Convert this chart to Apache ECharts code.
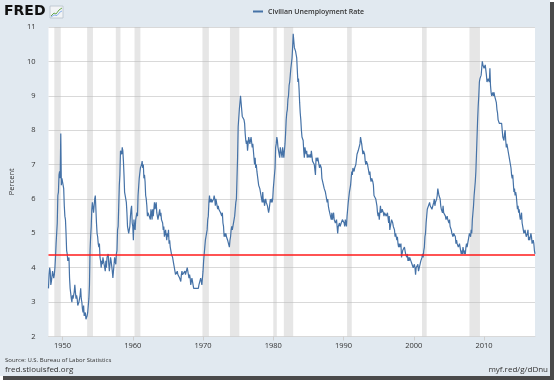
<!DOCTYPE html>
<html>
<head>
<meta charset="utf-8">
<script src="https://cdn.jsdelivr.net/npm/echarts@6/dist/echarts.min.js"></script>
<style>
html,body{margin:0;padding:0;background:#ffffff;}
#chart{width:554px;height:380px;}
</style>
</head>
<body>
<div id="chart"></div>
<script>
// Civilian Unemployment Rate, monthly, percent (start Jan 1948)
const startYear = 1948;
const u1940s = [
3.4,3.8,4.0,3.9,3.5,3.6,3.6,3.9,3.8,3.7,3.8,4.0,
4.3,4.7,5.0,5.3,6.1,6.2,6.7,6.8,6.6,7.9,6.4,6.6];
const u1950s = [
6.5,6.4,6.3,5.8,5.5,5.4,5.0,4.5,4.4,4.2,4.2,4.3,
3.7,3.4,3.4,3.1,3.0,3.2,3.1,3.1,3.3,3.5,3.5,3.1,
3.2,3.1,2.9,2.9,3.0,3.0,3.2,3.4,3.1,3.0,2.8,2.7,
2.9,2.6,2.6,2.7,2.5,2.5,2.6,2.7,2.9,3.1,3.5,4.5,
4.9,5.2,5.7,5.9,5.9,5.6,5.8,6.0,6.1,5.7,5.3,5.0,
4.9,4.7,4.6,4.7,4.3,4.2,4.0,4.2,4.1,4.3,4.2,4.2,
4.0,3.9,4.2,4.0,4.3,4.3,4.4,4.1,3.9,3.9,4.3,4.2,
4.2,3.9,3.7,3.9,4.1,4.3,4.2,4.1,4.4,4.5,5.1,5.2,
5.8,6.4,6.7,7.4,7.4,7.3,7.5,7.4,7.1,6.7,6.2,6.2,
6.0,5.9,5.6,5.2,5.1,5.0,5.1,5.2,5.5,5.7,5.8,5.3];
const u1960s = [
5.2,4.8,5.4,5.2,5.1,5.4,5.5,5.6,5.5,6.1,6.1,6.6,
6.6,6.9,6.9,7.0,7.1,6.9,7.0,6.6,6.7,6.5,6.1,6.0,
5.8,5.5,5.6,5.6,5.5,5.5,5.4,5.7,5.6,5.4,5.7,5.5,
5.7,5.9,5.7,5.7,5.9,5.6,5.6,5.4,5.5,5.5,5.7,5.5,
5.6,5.4,5.4,5.3,5.1,5.2,4.9,5.0,5.1,5.1,4.8,5.0,
4.9,5.1,4.7,4.8,4.6,4.6,4.4,4.4,4.3,4.2,4.1,4.0,
4.0,3.8,3.8,3.8,3.9,3.8,3.8,3.8,3.7,3.7,3.6,3.8,
3.9,3.8,3.8,3.8,3.8,3.9,3.8,3.8,3.8,4.0,3.9,3.8,
3.7,3.8,3.7,3.5,3.5,3.7,3.7,3.5,3.4,3.4,3.4,3.4,
3.4,3.4,3.4,3.4,3.4,3.5,3.5,3.5,3.7,3.7,3.5,3.5];
const u1970s = [
3.9,4.2,4.4,4.6,4.8,4.9,5.0,5.1,5.4,5.5,5.9,6.1,
5.9,5.9,6.0,5.9,5.9,5.9,6.0,6.1,6.0,5.8,6.0,6.0,
5.8,5.7,5.8,5.7,5.7,5.7,5.6,5.6,5.5,5.6,5.3,5.2,
4.9,5.0,4.9,5.0,4.9,4.9,4.8,4.8,4.8,4.6,4.8,4.9,
5.1,5.2,5.1,5.1,5.1,5.4,5.5,5.5,5.9,6.0,6.6,7.2,
8.1,8.1,8.6,8.8,9.0,8.8,8.6,8.4,8.4,8.4,8.3,8.2,
7.9,7.7,7.6,7.7,7.4,7.6,7.8,7.8,7.6,7.7,7.8,7.8,
7.5,7.6,7.4,7.2,7.0,7.2,6.9,7.0,6.8,6.8,6.8,6.4,
6.4,6.3,6.3,6.1,6.0,5.9,6.2,5.9,6.0,5.8,5.9,6.0,
5.9,5.9,5.8,5.8,5.6,5.7,5.7,6.0,5.9,6.0,5.9,6.0];
const u1980s = [
6.3,6.3,6.3,6.9,7.5,7.6,7.8,7.7,7.5,7.5,7.5,7.2,
7.5,7.4,7.4,7.2,7.5,7.5,7.2,7.4,7.6,7.9,8.3,8.5,
8.6,8.9,9.0,9.3,9.4,9.6,9.8,9.8,10.1,10.4,10.8,10.8,
10.4,10.4,10.3,10.2,10.1,10.1,9.4,9.5,9.2,8.8,8.5,8.3,
8.0,7.8,7.8,7.7,7.4,7.2,7.5,7.5,7.3,7.4,7.2,7.3,
7.3,7.2,7.2,7.3,7.2,7.4,7.4,7.1,7.1,7.1,7.0,7.0,
6.7,7.2,7.2,7.1,7.2,7.2,7.0,6.9,7.0,7.0,6.9,6.6,
6.6,6.6,6.6,6.3,6.3,6.2,6.1,6.0,5.9,6.0,5.8,5.7,
5.7,5.7,5.7,5.4,5.6,5.4,5.4,5.6,5.4,5.4,5.3,5.3,
5.4,5.2,5.0,5.2,5.2,5.3,5.2,5.2,5.3,5.3,5.4,5.4];
const u1990s = [
5.4,5.3,5.2,5.4,5.4,5.2,5.5,5.7,5.9,5.9,6.2,6.3,
6.4,6.6,6.8,6.7,6.9,6.9,6.8,6.9,6.9,7.0,7.0,7.3,
7.3,7.4,7.4,7.4,7.6,7.8,7.7,7.6,7.6,7.3,7.4,7.4,
7.3,7.1,7.0,7.1,7.1,7.0,6.9,6.8,6.7,6.8,6.6,6.5,
6.6,6.6,6.5,6.4,6.1,6.1,6.1,6.0,5.9,5.8,5.6,5.5,
5.6,5.4,5.4,5.8,5.6,5.6,5.7,5.7,5.6,5.5,5.6,5.6,
5.6,5.5,5.5,5.6,5.6,5.3,5.5,5.1,5.2,5.2,5.4,5.4,
5.3,5.2,5.2,5.1,4.9,5.0,4.9,4.8,4.9,4.7,4.6,4.7,
4.6,4.6,4.7,4.3,4.4,4.5,4.5,4.5,4.6,4.5,4.4,4.4,
4.3,4.4,4.2,4.3,4.2,4.3,4.3,4.2,4.2,4.1,4.1,4.0];
const u2000s = [
4.0,4.1,4.0,3.8,4.0,4.0,4.0,4.1,3.9,3.9,3.9,3.9,
4.2,4.2,4.3,4.4,4.3,4.5,4.6,4.9,5.0,5.3,5.5,5.7,
5.7,5.7,5.7,5.9,5.8,5.8,5.8,5.7,5.7,5.7,5.9,6.0,
5.8,5.9,5.9,6.0,6.1,6.3,6.2,6.1,6.1,6.0,5.8,5.7,
5.7,5.6,5.8,5.6,5.6,5.6,5.5,5.4,5.4,5.5,5.4,5.4,
5.3,5.4,5.2,5.2,5.1,5.0,5.0,4.9,5.0,5.0,5.0,4.9,
4.7,4.8,4.7,4.7,4.6,4.6,4.7,4.7,4.5,4.4,4.5,4.4,
4.6,4.5,4.4,4.5,4.4,4.6,4.7,4.6,4.7,4.7,4.7,5.0,
5.0,4.9,5.1,5.0,5.4,5.6,5.8,6.1,6.1,6.5,6.8,7.3,
7.8,8.3,8.7,9.0,9.4,9.5,9.5,9.6,9.8,10.0,9.9,9.9];
const u2010s = [
9.8,9.8,9.9,9.9,9.6,9.4,9.4,9.5,9.5,9.4,9.8,9.3,
9.1,9.0,9.0,9.1,9.0,9.1,9.0,9.0,9.0,8.8,8.6,8.5,
8.3,8.3,8.2,8.2,8.2,8.2,8.2,8.0,7.8,7.8,7.7,7.9,
8.0,7.7,7.5,7.6,7.5,7.5,7.3,7.2,7.2,7.2,6.9,6.7,
6.6,6.7,6.7,6.2,6.3,6.1,6.2,6.1,5.9,5.7,5.8,5.6,
5.7,5.5,5.4,5.4,5.6,5.3,5.2,5.1,5.0,5.0,5.1,5.0,
4.9,4.9,5.0,5.1,4.8,4.9,4.8,4.9,5.0,4.9,4.7,4.7,
4.8,4.7,4.5,4.4];

// NBER recessions [peak, trough] as [year, month]
const recessionStarts = [[1948,11],[1953,7],[1957,8],[1960,4],[1969,12],[1973,11],[1980,1],[1981,7],[1990,7],[2001,3],[2007,12]];
const recessionEnds   = [[1949,10],[1954,5],[1958,4],[1961,2],[1970,11],[1975,3],[1980,7],[1982,11],[1991,3],[2001,11],[2009,6]];

const referenceLevel = 4.37;
const xTickYears = [1950,1960,1970,1980,1990,2000,2010];
const seriesName = 'Civilian Unemployment Rate';

const allValues = [].concat(u1940s,u1950s,u1960s,u1970s,u1980s,u1990s,u2000s,u2010s);
const ym = (y,m) => y + (m-1)/12;
const lineData = allValues.map((v,i) => [startYear + i/12, v]);
const xMin = startYear;
const xMax = lineData[lineData.length-1][0];
const areas = recessionStarts.map((s,i) => [{xAxis: ym(s[0],s[1])},{xAxis: ym(recessionEnds[i][0],recessionEnds[i][1])}]);

const chart = echarts.init(document.getElementById('chart'), null, {renderer:'canvas'});
const FONT = '"Open Sans", "DejaVu Sans", sans-serif';
chart.setOption({
  animation:false,
  backgroundColor:'transparent',
  textStyle:{fontFamily:FONT},
  graphic:[
    {type:'rect', z:-10, silent:true, shape:{x:3,y:2,width:551,height:378}, style:{fill:'#4a4a4a'}},
    {type:'rect', z:-9, silent:true, shape:{x:0,y:0,width:550,height:376}, style:{fill:'#e1e9f0'}},
    {type:'text', left:4, top:4, style:{text:'FRED', font:'900 14px "DejaVu Sans", sans-serif', fill:'#111'}},
    {type:'rect', shape:{x:50,y:6,width:13,height:12}, style:{fill:'#f2f4f6', stroke:'#b8c2cc', lineWidth:0.8}},
    {type:'polyline', shape:{points:[[51,16],[54,13],[56,14],[59,10],[62,8]]}, style:{stroke:'#6aa84f', lineWidth:1, fill:null}},
    {type:'polyline', shape:{points:[[51,17],[54,15],[57,15.5],[60,12],[62,11]]}, style:{stroke:'#6d9eeb', lineWidth:0.8, fill:null}},
    {type:'text', left:5, top:357, style:{text:'Source: U.S. Bureau of Labor Statistics', font:'6px '+FONT, fill:'#333'}},
    {type:'text', left:5, top:366, style:{text:'fred.stlouisfed.org', font:'8px '+FONT, fill:'#333'}},
    {type:'text', right:6, top:366, style:{text:'myf.red/g/dDnu', font:'8px '+FONT, fill:'#333', align:'right'}}
  ],
  legend:{
    show:true, data:[seriesName], left:253, top:8, padding:0,
    icon:'rect', itemWidth:10, itemHeight:2, itemGap:4,
    textStyle:{fontSize:7, fontWeight:600, color:'#333', fontFamily:FONT}
  },
  grid:{left:48, right:19, top:27, bottom:43.5, show:true, backgroundColor:'#ffffff', borderWidth:0},
  xAxis:{
    type:'value', min:xMin, max:xMax,
    axisLine:{show:true, lineStyle:{color:'#d9d9d9'}},
    axisTick:{show:true, customValues:xTickYears, length:4, lineStyle:{color:'#cfcfcf'}},
    axisLabel:{customValues:xTickYears, fontSize:7.5, color:'#333', margin:5, fontFamily:FONT,
      formatter:(v)=>String(Math.round(v))},
    splitLine:{show:false}
  },
  yAxis:{
    type:'value', min:2, max:11, interval:1,
    name:'Percent', nameLocation:'middle', nameGap:30, nameRotate:90,
    nameTextStyle:{fontSize:7.5, color:'#333', fontFamily:FONT},
    axisLine:{show:false}, axisTick:{show:false},
    axisLabel:{fontSize:7.5, color:'#333', margin:13, fontFamily:FONT},
    splitLine:{lineStyle:{color:'#d9d9d9', width:1}}
  },
  series:[
    {
      name:seriesName, type:'line', data:lineData, showSymbol:false, symbol:'none',
      lineStyle:{color:'#4572a7', width:1.2}, itemStyle:{color:'#4572a7'}, z:3,
      markArea:{silent:true, itemStyle:{color:'rgba(190,190,190,0.38)'}, data:areas}
    },
    {
      name:'reference', type:'line', data:[[xMin,referenceLevel],[xMax,referenceLevel]],
      showSymbol:false, symbol:'none', lineStyle:{color:'#ff1a1a', width:1.6}, z:4
    }
  ]
});
</script>
</body>
</html>
